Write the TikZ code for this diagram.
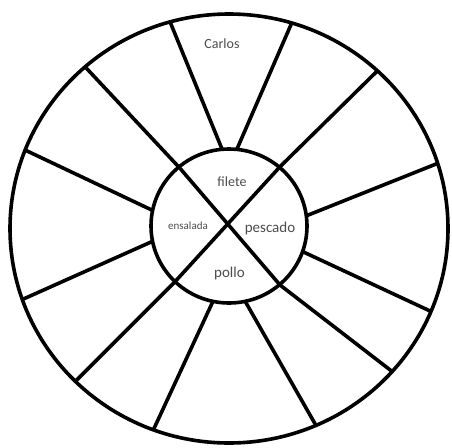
\documentclass[tikz,border=0pt]{standalone}
\usepackage{fontspec}
\usetikzlibrary{calc}
\setmainfont{Carlito}
\begin{document}
\begin{tikzpicture}[x=1pt,y=-1pt,
  ln/.style={line width=3.6pt,black},
  lbl/.style={text=black!70,inner sep=0pt,font=\fontsize{14}{14}\selectfont}]
\useasboundingbox (0,0) rectangle (452,447);
% outer ends
\coordinate (oA) at (170,21.7);
\coordinate (oB) at (292.7,20.7);
\coordinate (oC) at (380,68.3);
\coordinate (oD) at (439.3,162.7);
\coordinate (oE) at (435,313.3);
\coordinate (oF) at (396.7,375);
\coordinate (oG) at (316.7,426.7);
\coordinate (oH) at (153.3,430);
\coordinate (oI) at (76.7,380);
\coordinate (oJ) at (25,298.3);
\coordinate (oK) at (25,150);
\coordinate (oL) at (85,66.7);
% inner ends
\coordinate (iA) at (221.7,148.3);
\coordinate (iB) at (237.3,148.3);
\coordinate (iC) at (280,166.7);
\coordinate (iD) at (308.3,215);
\coordinate (iE) at (305,252.7);
\coordinate (iF) at (280,285);
\coordinate (iG) at (246.7,304);
\coordinate (iH) at (211.7,304);
\coordinate (iI) at (175,281.7);
\coordinate (iJ) at (151.7,241.7);
\coordinate (iK) at (151.7,210);
\coordinate (iL) at (180,168.3);
\begin{scope}
\clip (229,228.5) ellipse [x radius=219, y radius=214.5];
\foreach \s in {A,B,C,D,E,F,G,H,I,J,K,L}
  \draw[ln] ($(i\s)!-0.08!(o\s)$) -- ($(i\s)!1.08!(o\s)$);
\end{scope}
\draw[ln] (229,228.5) ellipse [x radius=219, y radius=214.5];
\draw[ln,fill=white] (229,226) ellipse [x radius=78, y radius=77];
\draw[ln] (iL) -- (iF);
\draw[ln] (iC) -- (iI);
\node[lbl] (carlos) at (222,44) {Carlos};
\node[lbl] (filete) at (232,182) {filete};
\node[lbl,font=\fontsize{15}{15}\selectfont] (pescado) at (270,228.5) {pescado};
\node[lbl,font=\fontsize{11}{11}\selectfont] (ensalada) at (188,226) {ensalada};
\node[lbl,font=\fontsize{15}{15}\selectfont] (pollo) at (229.5,273.5) {pollo};
\end{tikzpicture}
\end{document}
